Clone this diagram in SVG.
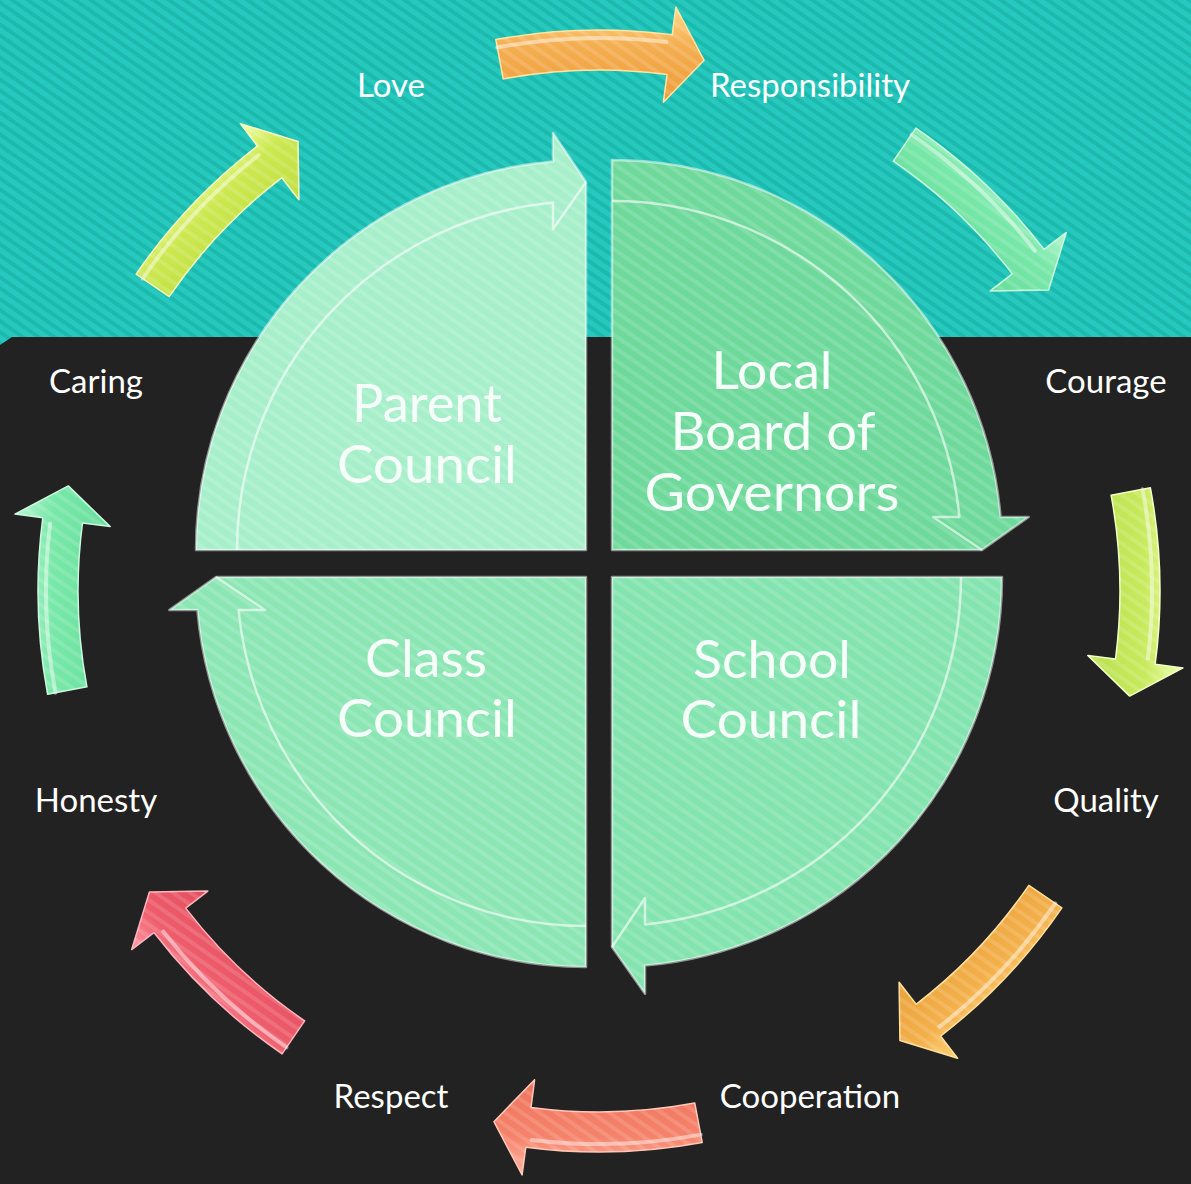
<svg xmlns="http://www.w3.org/2000/svg" xmlns:xlink="http://www.w3.org/1999/xlink" width="1191" height="1184" viewBox="0 0 1191 1184">
<style>
.lbl{font-family:Lato,"Open Sans","Liberation Sans",sans-serif;font-size:33px;fill:#FFFFFF;text-anchor:middle}
.qt{font-family:Lato,"Open Sans","Liberation Sans",sans-serif;font-size:52px;fill:#F6FFF9;text-anchor:middle}
.rim{fill:none;stroke:#FFFFFF;stroke-opacity:0.5;stroke-width:2.5;stroke-linejoin:round}
.inner{fill:none;stroke:#FFFFFF;stroke-opacity:0.6;stroke-width:2.5;stroke-linejoin:round}
.hi{fill:none;stroke:#FFFFFF;stroke-opacity:0.45;stroke-width:4;stroke-linecap:round}
.aedge{stroke-width:1.5;stroke-linejoin:round}
</style>
<defs>
<pattern id="bg" width="9" height="9" patternUnits="userSpaceOnUse" patternTransform="rotate(35)">
<rect width="9" height="9" fill="#27C9BE"/>
<rect width="9" height="4" fill="#1CB9AE"/>
</pattern>
<pattern id="sh" width="10" height="10" patternUnits="userSpaceOnUse" patternTransform="rotate(35)">
<rect width="10" height="4" fill="#FFFFFF" fill-opacity="0.13"/>
</pattern>
<path id="arw" d="M495.8,39.6 A561,561 0 0 1 672.2,34.8 L675.9,7.0 L704.1,60.3 L663.4,102.2 L667.0,74.5 A521,521 0 0 0 503.2,78.9 Z"/>
<path id="arwHi" d="M497.3,47.4 A553,553 0 0 1 666.4,42.1"/>
<linearGradient id="gOr" x1="0" y1="0" x2="0" y2="1"><stop offset="0" stop-color="#FFD98A"/><stop offset="0.4" stop-color="#F4AE50"/><stop offset="1" stop-color="#EE9D3C"/></linearGradient>
<linearGradient id="gMi" x1="0" y1="0" x2="0" y2="1"><stop offset="0" stop-color="#B8F5D2"/><stop offset="0.4" stop-color="#78E8A8"/><stop offset="1" stop-color="#68DE9C"/></linearGradient>
<linearGradient id="gLi" x1="0" y1="0" x2="0" y2="1"><stop offset="0" stop-color="#EEFFB0"/><stop offset="0.4" stop-color="#C8EA5E"/><stop offset="1" stop-color="#B8E04E"/></linearGradient>
<linearGradient id="gOr2" x1="0" y1="0" x2="0" y2="1"><stop offset="0" stop-color="#FFD27A"/><stop offset="0.4" stop-color="#F3B04A"/><stop offset="1" stop-color="#EAA23C"/></linearGradient>
<linearGradient id="gSa" x1="0" y1="0" x2="0" y2="1"><stop offset="0" stop-color="#FFB4A0"/><stop offset="0.4" stop-color="#F5836B"/><stop offset="1" stop-color="#EE735C"/></linearGradient>
<linearGradient id="gRe" x1="0" y1="0" x2="0" y2="1"><stop offset="0" stop-color="#FF9AA4"/><stop offset="0.4" stop-color="#EE5D6C"/><stop offset="1" stop-color="#E44E5E"/></linearGradient>
<linearGradient id="gYl" x1="0" y1="0" x2="0" y2="1"><stop offset="0" stop-color="#F2FFA8"/><stop offset="0.4" stop-color="#CCE850"/><stop offset="1" stop-color="#BEDF42"/></linearGradient>
<clipPath id="arrClip">
<use xlink:href="#arw"/>
<use xlink:href="#arw" transform="rotate(45 599 591)"/>
<use xlink:href="#arw" transform="rotate(90 599 591)"/>
<use xlink:href="#arw" transform="rotate(135 599 591)"/>
<use xlink:href="#arw" transform="rotate(180 599 591)"/>
<use xlink:href="#arw" transform="rotate(225 599 591)"/>
<use xlink:href="#arw" transform="rotate(270 599 591)"/>
<use xlink:href="#arw" transform="rotate(315 599 591)"/>
</clipPath>
</defs>

<!-- background -->
<rect width="1191" height="1184" fill="url(#bg)"/>
<polygon points="0,345 12,337 1191,337 1191,1184 0,1184" fill="#222222"/>

<!-- quadrants -->
<g id="parent-council">
<path d="M586,550 L196,550 A390,390 0 0 1 553,161.4 L553,133 L586,182 Z" fill="#A7EFCA"/>
<path d="M586,550 L196,550 A390,390 0 0 1 553,161.4 L553,133 L586,182 Z" fill="url(#sh)"/>
<path class="rim" d="M586,550 L196,550 A390,390 0 0 1 553,161.4 L553,133 L586,182 Z"/>
<path class="inner" d="M237,550 A349,349 0 0 1 553,202.6 L553,229 L586,182" stroke-opacity="0.4"/>
<text class="qt" x="427" y="422" textLength="150" lengthAdjust="spacingAndGlyphs">Parent</text>
<text class="qt" x="427" y="483" textLength="180" lengthAdjust="spacingAndGlyphs">Council</text>
</g>

<g id="local-board-of-governors">
<path d="M612,550 L612,160 A390,390 0 0 1 1000.6,517 L1028.7,517 L982,550 Z" fill="#6ED99B"/>
<path d="M612,550 L612,160 A390,390 0 0 1 1000.6,517 L1028.7,517 L982,550 Z" fill="url(#sh)"/>
<path class="rim" d="M612,550 L612,160 A390,390 0 0 1 1000.6,517 L1028.7,517 L982,550 Z"/>
<path class="inner" d="M612,201 A349,349 0 0 1 959.4,517 L933,517 L982,550"/>
<text class="qt" x="772" y="389" textLength="121" lengthAdjust="spacingAndGlyphs">Local</text>
<text class="qt" x="773" y="450" textLength="205" lengthAdjust="spacingAndGlyphs">Board of</text>
<text class="qt" x="772" y="511" textLength="255" lengthAdjust="spacingAndGlyphs">Governors</text>
</g>

<g id="school-council">
<path d="M612,577 L1002,577 A390,390 0 0 1 645,965.6 L645,993.7 L612,947 Z" fill="#84E4AF"/>
<path d="M612,577 L1002,577 A390,390 0 0 1 645,965.6 L645,993.7 L612,947 Z" fill="url(#sh)"/>
<path class="rim" d="M612,577 L1002,577 A390,390 0 0 1 645,965.6 L645,993.7 L612,947 Z"/>
<path class="inner" d="M961,577 A349,349 0 0 1 645,924.4 L645,898 L612,947"/>
<text class="qt" x="772" y="678" textLength="158" lengthAdjust="spacingAndGlyphs">School</text>
<text class="qt" x="771" y="738" textLength="181" lengthAdjust="spacingAndGlyphs">Council</text>
</g>

<g id="class-council">
<path d="M586,577 L586,967 A390,390 0 0 1 197.4,610 L169.3,610 L216,577 Z" fill="#8CE6B4"/>
<path d="M586,577 L586,967 A390,390 0 0 1 197.4,610 L169.3,610 L216,577 Z" fill="url(#sh)"/>
<path class="rim" d="M586,577 L586,967 A390,390 0 0 1 197.4,610 L169.3,610 L216,577 Z"/>
<path class="inner" d="M586,926 A349,349 0 0 1 238.6,610 L265,610 L216,577"/>
<text class="qt" x="426" y="677" textLength="122" lengthAdjust="spacingAndGlyphs">Class</text>
<text class="qt" x="427" y="737" textLength="180" lengthAdjust="spacingAndGlyphs">Council</text>
</g>

<!-- cycle arrows -->
<g id="connectors">
<g id="love-to-responsibility"><use xlink:href="#arw" fill="url(#gOr)" stroke="#FFE3A0" class="aedge"/><use xlink:href="#arwHi" class="hi"/></g>
<g id="responsibility-to-courage" transform="rotate(45 599 591)"><use xlink:href="#arw" fill="url(#gMi)" stroke="#C9F8DD" class="aedge"/><use xlink:href="#arwHi" class="hi"/></g>
<g id="courage-to-quality" transform="rotate(90 599 591)"><use xlink:href="#arw" fill="url(#gLi)" stroke="#F2FFC4" class="aedge"/><use xlink:href="#arwHi" class="hi"/></g>
<g id="quality-to-cooperation" transform="rotate(135 599 591)"><use xlink:href="#arw" fill="url(#gOr2)" stroke="#FFDE98" class="aedge"/><use xlink:href="#arwHi" class="hi"/></g>
<g id="cooperation-to-respect" transform="rotate(180 599 591)"><use xlink:href="#arw" fill="url(#gSa)" stroke="#FFC6B6" class="aedge"/><use xlink:href="#arwHi" class="hi"/></g>
<g id="respect-to-honesty" transform="rotate(225 599 591)"><use xlink:href="#arw" fill="url(#gRe)" stroke="#FFB2BA" class="aedge"/><use xlink:href="#arwHi" class="hi"/></g>
<g id="honesty-to-caring" transform="rotate(270 599 591)"><use xlink:href="#arw" fill="url(#gMi)" stroke="#C9F8DD" class="aedge"/><use xlink:href="#arwHi" class="hi"/></g>
<g id="caring-to-love" transform="rotate(315 599 591)"><use xlink:href="#arw" fill="url(#gYl)" stroke="#F4FFC0" class="aedge"/><use xlink:href="#arwHi" class="hi"/></g>
<rect width="1191" height="1184" fill="url(#sh)" clip-path="url(#arrClip)"/>
</g>

<!-- value labels -->
<g id="label-love"><text class="lbl" x="391" y="97">Love</text></g>
<g id="label-responsibility"><text class="lbl" x="810" y="97">Responsibility</text></g>
<g id="label-courage"><text class="lbl" x="1106" y="393">Courage</text></g>
<g id="label-quality"><text class="lbl" x="1106" y="812">Quality</text></g>
<g id="label-cooperation"><text class="lbl" x="810" y="1108">Cooperation</text></g>
<g id="label-respect"><text class="lbl" x="391" y="1108">Respect</text></g>
<g id="label-honesty"><text class="lbl" x="96" y="812">Honesty</text></g>
<g id="label-caring"><text class="lbl" x="96" y="393">Caring</text></g>
</svg>
